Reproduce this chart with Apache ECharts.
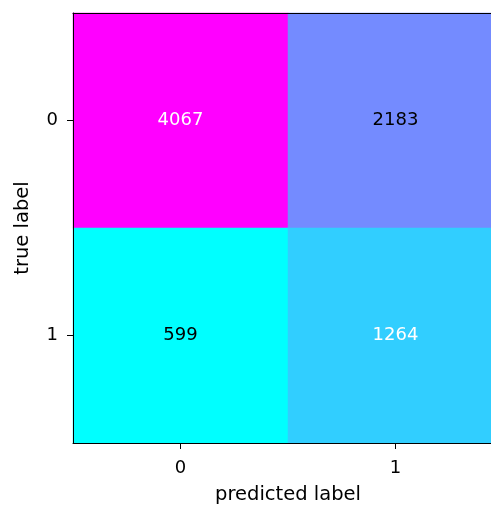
<!DOCTYPE html>
<html>
<head>
<meta charset="utf-8">
<script src="https://cdn.jsdelivr.net/npm/echarts@6/dist/echarts.min.js"></script>
<style>
  html, body { margin: 0; padding: 0; background: #fff; overflow: hidden; }
  #chart { width: 520px; height: 505px; }
</style>
</head>
<body>
<div id="chart"></div>
<script>
// Confusion matrix: rows = true label, columns = predicted label
const predictedLabels = ['0', '1'];
const trueLabels = ['0', '1'];
const counts = [
  [4067, 2183],
  [599, 1264]
];
// Text colour of each cell's count
const countColors = [
  ['#ffffff', '#000000'],
  ['#000000', '#ffffff']
];

const cells = [];
counts.forEach((row, r) => {
  row.forEach((v, c) => {
    cells.push({
      value: [c, r, v],
      label: { color: countColors[r][c] }
    });
  });
});
const flat = counts.flat();

const FONT = 'DejaVu Sans';
const chart = echarts.init(document.getElementById('chart'), null, { renderer: 'canvas' });
chart.setOption({
  animation: false,
  backgroundColor: '#ffffff',
  grid: { left: 73, top: 13, width: 430, height: 430, containLabel: false, outerBoundsMode: 'none' },
  xAxis: [{
    type: 'category',
    data: predictedLabels,
    position: 'bottom',
    z: 10,
    name: 'predicted label',
    nameLocation: 'middle',
    nameGap: 42,
    nameTextStyle: { fontFamily: FONT, fontSize: 19.5, color: '#000' },
    axisLine: { show: true, lineStyle: { color: '#000', width: 1 } },
    axisTick: { show: true, alignWithLabel: true, length: 6, lineStyle: { color: '#000' } },
    axisLabel: { fontFamily: FONT, fontSize: 18, color: '#000', margin: 16 },
    splitLine: { show: false }
  }, {
    type: 'category',
    data: predictedLabels,
    position: 'top',
    z: 10,
    axisLine: { show: true, lineStyle: { color: '#000', width: 1 } },
    axisTick: { show: false },
    axisLabel: { show: false },
    splitLine: { show: false }
  }],
  yAxis: {
    type: 'category',
    data: trueLabels,
    inverse: true,
    z: 10,
    name: 'true label',
    nameLocation: 'middle',
    nameGap: 40,
    nameRotate: 90,
    nameTextStyle: { fontFamily: FONT, fontSize: 19.5, color: '#000' },
    axisLine: { show: true, lineStyle: { color: '#000', width: 1 } },
    axisTick: { show: true, alignWithLabel: true, length: 6, lineStyle: { color: '#000' } },
    axisLabel: { fontFamily: FONT, fontSize: 18, color: '#000', margin: 15 },
    splitLine: { show: false }
  },
  visualMap: {
    show: false,
    min: Math.min(...flat),
    max: Math.max(...flat),
    dimension: 2,
    inRange: { color: ['#00ffff', '#ff00ff'] }
  },
  series: [{
    type: 'heatmap',
    data: cells,
    label: {
      show: true,
      fontFamily: FONT,
      fontSize: 18,
      formatter: p => String(p.value[2])
    },
    itemStyle: { borderWidth: 0 },
    emphasis: { disabled: true }
  }]
});
</script>
</body>
</html>
